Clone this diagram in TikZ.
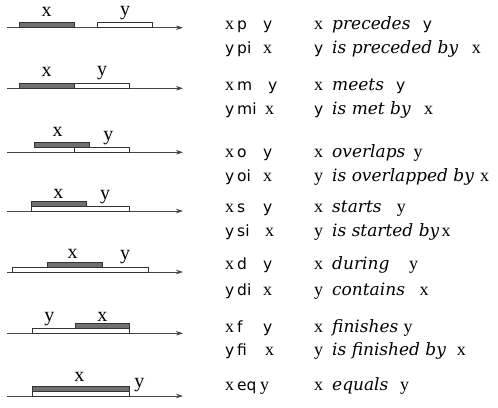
\documentclass[tikz,border=0pt]{standalone}
\usepackage{fontspec}
\setmainfont{Liberation Serif}
\newfontfamily\opfont{DejaVu Sans}
\newfontfamily\phfont{DejaVu Serif}
\usetikzlibrary{arrows.meta}
\definecolor{barfill}{RGB}{112,112,112}
\definecolor{axiscol}{RGB}{70,70,70}
\newcommand\vx{{\fontsize{18}{20}\selectfont x}}
\newcommand\vy{{\fontsize{18}{20}\selectfont y}}
\newcommand\sy{{\opfont\fontsize{15.5}{17}\selectfont y}}
\newcommand\opn[1]{{\opfont\fontsize{15.5}{17}\selectfont #1}}
\newcommand\phr[1]{{\phfont\itshape\fontsize{17}{19}\selectfont #1}}
\begin{document}
\begin{tikzpicture}[x=1pt,y=-1pt,
  axis/.style={draw=axiscol, line width=0.7pt, -{Stealth[length=7pt,width=4.5pt]}},
  xbar/.style={draw=black!80, fill=barfill, line width=0.6pt},
  ybar/.style={draw=black!80, fill=white, line width=0.6pt},
  lab/.style={inner sep=0pt, anchor=center, font=\fontsize{20}{22}\selectfont},
  tok/.style={inner sep=0pt, anchor=base west}]
\path[use as bounding box] (0,0) rectangle (498,407);

% ---- timelines ----
\foreach \r/\ay in {1/27.7,2/88.3,3/152.3,4/211,5/272,6/333.3,7/396}{
  \coordinate (s\r) at (7,\ay);
  \coordinate (e\r) at (183,\ay);
  \draw[axis] (s\r) -- (e\r);
}
% row 1 precedes
\draw[xbar] (19.3,22.7) rectangle (74.3,27.7);
\draw[ybar] (97.3,22.7) rectangle (152.3,27.7);
\node[lab] (l1x) at (46.7,11.7) {x};
\node[lab] (l1y) at (125,13) {y};
% row 2 meets
\draw[xbar] (19.3,83.3) rectangle (74.3,88.3);
\draw[ybar] (74.3,83.3) rectangle (129,88.3);
\node[lab] (l2x) at (46.7,72) {x};
\node[lab] (l2y) at (102,73) {y};
% row 3 overlaps
\draw[xbar] (34.3,142.7) rectangle (89,147.3);
\draw[ybar] (74.3,147.3) rectangle (129,152.3);
\node[lab] (l3x) at (57.7,132.3) {x};
\node[lab] (l3y) at (108.3,138) {y};
% row 4 starts
\draw[xbar] (31.3,201.3) rectangle (86.7,206);
\draw[ybar] (31.3,206) rectangle (129,211);
\node[lab] (l4x) at (58.3,194) {x};
\node[lab] (l4y) at (105,197.5) {y};
% row 5 during
\draw[ybar] (12.3,267) rectangle (148,272);
\draw[xbar] (47.3,262.3) rectangle (102,267);
\node[lab] (l5x) at (72.7,254.3) {x};
\node[lab] (l5y) at (125,257.5) {y};
% row 6 finishes
\draw[ybar] (32.3,328.3) rectangle (129.7,333.3);
\draw[xbar] (75,323.3) rectangle (129.7,328.3);
\node[lab] (l6y) at (49.3,319) {y};
\node[lab] (l6x) at (102.3,316.7) {x};
% row 7 equals
\draw[xbar] (32.3,386.7) rectangle (129.7,391.3);
\draw[ybar] (32.3,391.3) rectangle (129.7,396);
\node[lab] (l7x) at (79.3,376.7) {x};
\node[lab] (l7y) at (139.3,385.5) {y};

% ---- relation texts ----
% p
\node[tok] (a1) at (225,29.5) {\vx};
\node[tok] (b1) at (237,29.5) {\opn{p}};
\node[tok] (c1) at (263,29.5) {\sy};
\node[tok] (d1) at (314,29.5) {\vx};
\node[tok] (f1) at (332,29.5) {\phr{precedes}};
\node[tok] (g1) at (422.7,29.5) {\sy};
% pi
\node[tok] (a2) at (225,53.5) {\sy};
\node[tok] (b2) at (237,53.5) {\opn{pi}};
\node[tok] (c2) at (263,53.5) {\vx};
\node[tok] (d2) at (314,53.5) {\sy};
\node[tok] (f2) at (332,53.5) {\phr{is preceded by}};
\node[tok] (g2) at (471.7,53.5) {\vx};
% m
\node[tok] (a3) at (225,90.7) {\vx};
\node[tok] (b3) at (237,90.7) {\opn{m}};
\node[tok] (c3) at (268,90.7) {\sy};
\node[tok] (d3) at (314,90.7) {\vx};
\node[tok] (f3) at (332,90.7) {\phr{meets}};
\node[tok] (g3) at (396,90.7) {\sy};
% mi
\node[tok] (a4) at (225,114.7) {\sy};
\node[tok] (b4) at (237,114.7) {\opn{mi}};
\node[tok] (c4) at (265,114.7) {\vx};
\node[tok] (d4) at (314,114.7) {\sy};
\node[tok] (f4) at (332,114.7) {\phr{is met by}};
\node[tok] (g4) at (424,114.7) {\vx};
% o
\node[tok] (a5) at (225,157.3) {\vx};
\node[tok] (b5) at (237,157.3) {\opn{o}};
\node[tok] (c5) at (263,157.3) {\sy};
\node[tok] (d5) at (314,157.3) {\vx};
\node[tok] (f5) at (332,157.3) {\phr{overlaps}};
\node[tok] (g5) at (413.3,157.3) {\vy};
% oi
\node[tok] (a6) at (225,181) {\sy};
\node[tok] (b6) at (237,181) {\opn{oi}};
\node[tok] (c6) at (263,181) {\vx};
\node[tok] (d6) at (314,181) {\vy};
\node[tok] (f6) at (332,181) {\phr{is overlapped by}};
\node[tok] (g6) at (480,181) {\vx};
% s
\node[tok] (a7) at (225,212.7) {\vx};
\node[tok] (b7) at (237,212.7) {\opn{s}};
\node[tok] (c7) at (263,212.7) {\sy};
\node[tok] (d7) at (314,212.7) {\vx};
\node[tok] (f7) at (332,212.7) {\phr{starts}};
\node[tok] (g7) at (396.7,212.7) {\vy};
% si
\node[tok] (a8) at (225,236.7) {\sy};
\node[tok] (b8) at (237,236.7) {\opn{si}};
\node[tok] (c8) at (265,236.7) {\vx};
\node[tok] (d8) at (314,236.7) {\vy};
\node[tok] (f8) at (332,236.7) {\phr{is started by}};
\node[tok] (g8) at ([xshift=2pt]f8.base east) {\vx};
% d
\node[tok] (a9) at (225,269.3) {\vx};
\node[tok] (b9) at (237,269.3) {\opn{d}};
\node[tok] (c9) at (263,269.3) {\sy};
\node[tok] (d9) at (314,269.3) {\vx};
\node[tok] (f9) at (332,269.3) {\phr{during}};
\node[tok] (g9) at (409,269.3) {\vy};
% di
\node[tok] (a10) at (225,295.5) {\sy};
\node[tok] (b10) at (237,295.5) {\opn{di}};
\node[tok] (c10) at (263,295.5) {\vx};
\node[tok] (d10) at (314,295.5) {\vy};
\node[tok] (f10) at (332,295.5) {\phr{contains}};
\node[tok] (g10) at (419.3,295.5) {\vx};
% f
\node[tok] (a11) at (225,332.5) {\vx};
\node[tok] (b11) at (237,332.5) {\opn{f}};
\node[tok] (c11) at (263,332.5) {\sy};
\node[tok] (d11) at (314,332.5) {\vx};
\node[tok] (f11) at (332,332.5) {\phr{finishes}};
\node[tok] (g11) at (403.3,332.5) {\vy};
% fi
\node[tok] (a12) at (225,355) {\sy};
\node[tok] (b12) at (237,355) {\opn{fi}};
\node[tok] (c12) at (265,355) {\vx};
\node[tok] (d12) at (314,355) {\vy};
\node[tok] (f12) at (332,355) {\phr{is finished by}};
\node[tok] (g12) at (456.7,355) {\vx};
% eq
\node[tok] (a13) at (225,390.7) {\vx};
\node[tok] (b13) at (237,390.7) {\opn{eq}};
\node[tok] (c13) at (260,390.7) {\vy};
\node[tok] (d13) at (314,390.7) {\vx};
\node[tok] (f13) at (332,390.7) {\phr{equals}};
\node[tok] (g13) at (400,390.7) {\vy};
\end{tikzpicture}
\end{document}
